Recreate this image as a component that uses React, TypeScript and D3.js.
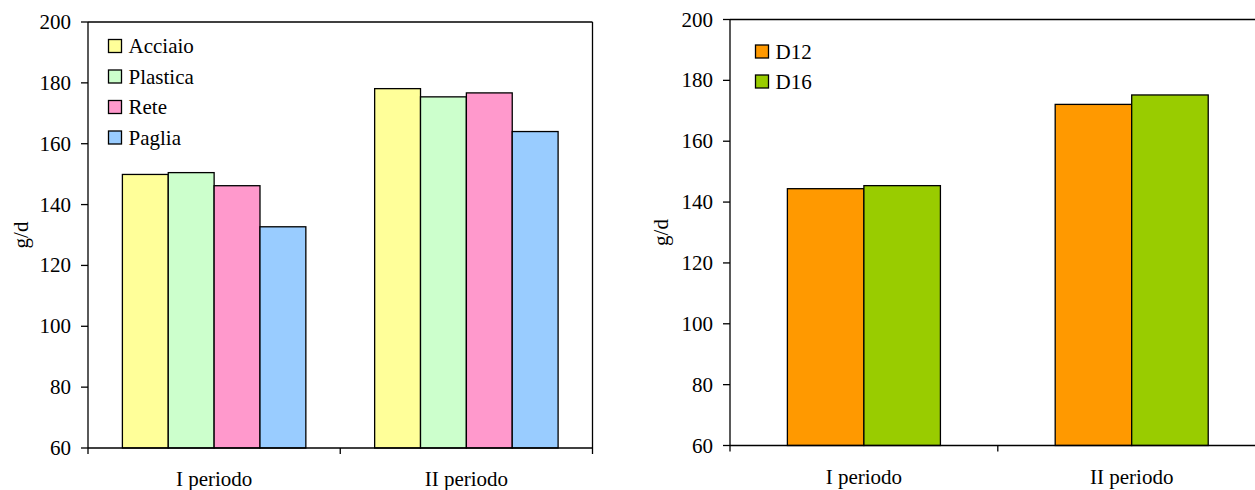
import React from "react";
import * as d3 from "d3";

const categories = ["I periodo", "II periodo"];
const yTicks = [60, 80, 100, 120, 140, 160, 180, 200];

const leftSeries = ["Acciaio", "Plastica", "Rete", "Paglia"];
const leftColors = ["#FFFF99", "#CCFFCC", "#FF99CC", "#99CCFF"];
const acciaio = [149.9, 178.1];
const plastica = [150.5, 175.4];
const rete = [146.2, 176.7];
const paglia = [132.7, 164.0];

const rightSeries = ["D12", "D16"];
const rightColors = ["#FF9900", "#99CC00"];
const d12 = [144.4, 172.1];
const d16 = [145.4, 175.2];

const FONT = "Liberation Serif, Times New Roman, DejaVu Serif, serif";
const FS = 21;
const txt = { fontFamily: FONT, fontSize: FS + "px" };

type PanelProps = {
  x0: number;
  x1: number;
  yTop: number;
  yBottom: number;
  series: string[];
  colors: string[];
  values: number[][];
  labelX: number;
  legendX: number;
  legendY: number;
  legendStep: number;
  showRightBorder: boolean;
};

function Panel(p: PanelProps) {
  const y = d3.scaleLinear().domain([60, 200]).range([p.yBottom, p.yTop]);
  const xCat = d3.scaleBand<string>().domain(categories).range([p.x0, p.x1]).padding(0);
  const xSer = d3
    .scaleBand<string>()
    .domain(p.series)
    .range([0, xCat.bandwidth()])
    .paddingInner(0)
    .paddingOuter(0.75);
  const midY = (p.yTop + p.yBottom) / 2;
  const catEdges = [p.x0, ...categories.map((c) => (xCat(c) as number) + xCat.bandwidth())];
  return (
    <g>
      <line x1={p.x0} x2={p.x1} y1={p.yTop} y2={p.yTop} stroke="#000" strokeWidth={1.3} />
      {p.showRightBorder && (
        <line x1={p.x1} x2={p.x1} y1={p.yTop} y2={p.yBottom} stroke="#000" strokeWidth={1.3} />
      )}
      {categories.map((c, ci) =>
        p.series.map((s, si) => {
          const v = p.values[si][ci];
          const bx = (xCat(c) as number) + (xSer(s) as number);
          return (
            <rect
              key={c + s}
              x={bx}
              y={y(v)}
              width={xSer.bandwidth()}
              height={y(60) - y(v)}
              fill={p.colors[si]}
              stroke="#000"
              strokeWidth={1.3}
            />
          );
        })
      )}
      <line x1={p.x0} x2={p.x0} y1={p.yTop} y2={p.yBottom} stroke="#000" strokeWidth={1.3} />
      {yTicks.map((t) => (
        <g key={t}>
          <line x1={p.x0 - 7} x2={p.x0} y1={y(t)} y2={y(t)} stroke="#000" strokeWidth={1.3} />
          <text x={p.x0 - 17} y={y(t) + 7} textAnchor="end" style={txt} fill="#000">
            {t}
          </text>
        </g>
      ))}
      <line x1={p.x0} x2={p.x1} y1={p.yBottom} y2={p.yBottom} stroke="#000" strokeWidth={1.3} />
      {catEdges.map((e, i) => (
        <line key={i} x1={e} x2={e} y1={p.yBottom} y2={p.yBottom + 6} stroke="#000" strokeWidth={1.3} />
      ))}
      {categories.map((c) => (
        <text
          key={c}
          x={(xCat(c) as number) + xCat.bandwidth() / 2}
          y={p.yBottom + 38}
          textAnchor="middle"
          style={txt}
          fill="#000"
        >
          {c}
        </text>
      ))}
      <text
        transform={`translate(${p.labelX + 7},${midY}) rotate(-90)`}
        textAnchor="middle"
        style={txt}
        fill="#000"
      >
        g/d
      </text>
      {p.series.map((s, si) => (
        <g key={s}>
          <rect
            x={p.legendX}
            y={p.legendY + si * p.legendStep - 6.5}
            width={13}
            height={13}
            fill={p.colors[si]}
            stroke="#000"
            strokeWidth={1.3}
          />
          <text x={p.legendX + 20} y={p.legendY + si * p.legendStep + 7} style={txt} fill="#000">
            {s}
          </text>
        </g>
      ))}
    </g>
  );
}

export default function App() {
  return (
    <svg width={1255} height={490} style={{ position: "absolute", left: 0, top: 0, background: "#fff" }}>
      <rect x={0} y={0} width={1255} height={490} fill="#fff" />
      <Panel
        x0={88}
        x1={592.5}
        yTop={22}
        yBottom={448}
        series={leftSeries}
        colors={leftColors}
        values={[acciaio, plastica, rete, paglia]}
        labelX={21}
        legendX={108.5}
        legendY={46}
        legendStep={30.5}
        showRightBorder={true}
      />
      <Panel
        x0={730}
        x1={1265.6}
        yTop={19.5}
        yBottom={445.5}
        series={rightSeries}
        colors={rightColors}
        values={[d12, d16]}
        labelX={661}
        legendX={755.5}
        legendY={51.5}
        legendStep={30}
        showRightBorder={false}
      />
    </svg>
  );
}
